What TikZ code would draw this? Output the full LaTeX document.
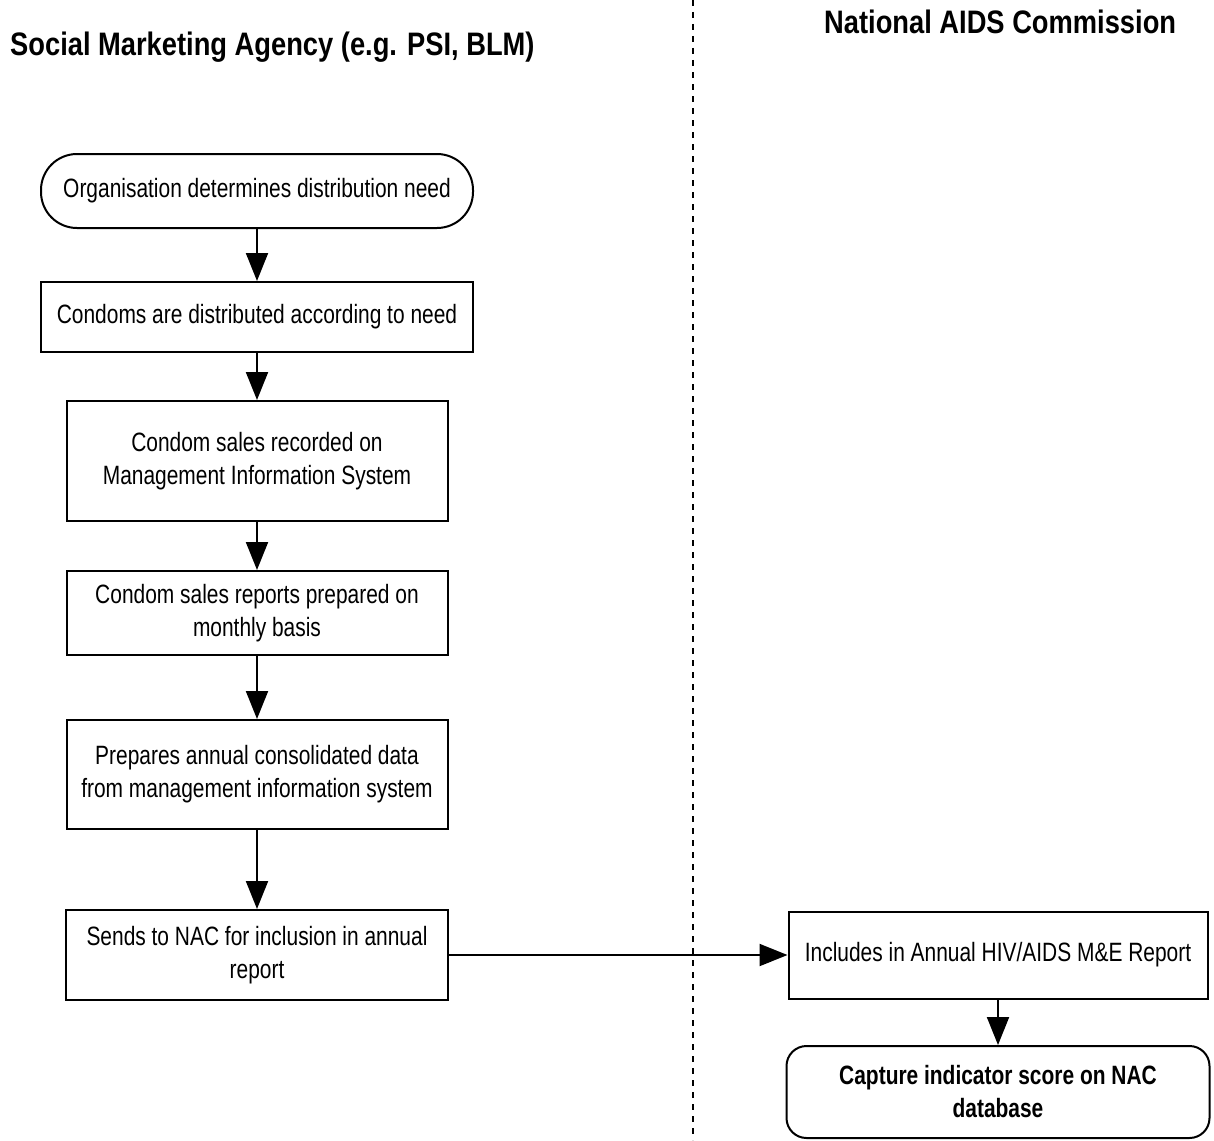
\documentclass[tikz,border=0pt]{standalone}
\usepackage{fontspec}
\setmainfont[FakeStretch=0.84]{Liberation Sans}
\newfontfamily\bodyfont[FakeStretch=0.79]{Liberation Sans}
\usetikzlibrary{arrows.meta}
\begin{document}
\begin{tikzpicture}[x=1pt,y=-1pt,
  box/.style={draw, line width=2pt, inner sep=0pt, align=center, font=\bodyfont\fontsize{26.5}{33}\selectfont},
  term/.style={box, rounded corners=36pt},
  termb/.style={box, rounded corners=20pt, font=\bodyfont\bfseries\fontsize{26.5}{33}\selectfont},
  flow/.style={line width=2pt, -{Triangle[length=28pt,width=22pt]}},
  lane/.style={line width=2pt, dash pattern=on 6pt off 6pt},
  title/.style={font=\bfseries\fontsize{32.5}{36}\selectfont, inner sep=0pt, anchor=base west}]
\useasboundingbox (0,0) rectangle (1214,1140);
\fill[white] (0,0) rectangle (1214,1140);

\node[title] (tl) at (10,56) {Social Marketing Agency (e.g. PSI, BLM)};
\node[title] (tr) at (824,34) {National AIDS Commission};

\coordinate (lt) at (693,0);
\coordinate (lb) at (693,1140);
\draw[lane] (lt) -- (lb);

\node[term, minimum width=432pt, minimum height=74pt] (s1) at (257,191) {Organisation determines distribution need};
\node[box, minimum width=432pt, minimum height=70pt] (s2) at (257,317) {Condoms are distributed according to need};
\node[box, minimum width=381pt, minimum height=120pt] (s3) at (257,461) {Condom sales recorded on\\Management Information System};
\node[box, minimum width=381pt, minimum height=84pt] (s4) at (257,613) {Condom sales reports prepared on\\monthly basis};
\node[box, minimum width=381pt, minimum height=109pt] (s5) at (257,774.5) {Prepares annual consolidated data\\from management information system};
\node[box, minimum width=382pt, minimum height=90pt] (s6) at (257,955) {Sends to NAC for inclusion in annual\\report};
\node[box, minimum width=419pt, minimum height=87pt] (s7) at (998,955) {Includes in Annual HIV/AIDS M\&E Report};
\node[termb, minimum width=423pt, minimum height=92pt] (s8) at (998,1092) {Capture indicator score on NAC\\database};

\draw[flow] (s1.south) -- (s1.south |- s2.north);
\draw[flow] (s2.south) -- (s2.south |- s3.north);
\draw[flow] (s3.south) -- (s3.south |- s4.north);
\draw[flow] (s4.south) -- (s4.south |- s5.north);
\draw[flow] (s5.south) -- (s5.south |- s6.north);
\draw[flow] (s6.east) -- (s6.east -| s7.west);
\draw[flow] (s7.south) -- (s7.south |- s8.north);
\end{tikzpicture}
\end{document}
